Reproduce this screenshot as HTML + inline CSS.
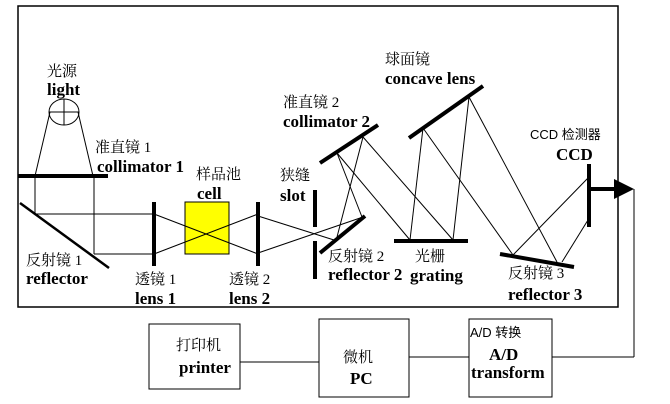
<!DOCTYPE html>
<html><head><meta charset="utf-8"><style>
html,body{margin:0;padding:0;background:#fff;}
svg{display:block}
.c{font-family:"Liberation Serif","Noto Serif CJK SC","Noto Sans CJK SC",serif;font-size:15px;fill:#000}
.e{font-family:"Liberation Serif",serif;font-size:17px;font-weight:bold;fill:#000}
.s{font-family:"Liberation Sans","Noto Sans CJK SC",sans-serif;font-size:13px;fill:#000}
</style></head><body>
<svg width="670" height="404" viewBox="0 0 670 404" xmlns="http://www.w3.org/2000/svg">
<rect x="18" y="6" width="600" height="301" fill="none" stroke="#000" stroke-width="1.5"/>
<g stroke="#000" stroke-width="1" fill="none">
<ellipse cx="64" cy="112" rx="15" ry="13"/>
<line x1="64" y1="99" x2="64" y2="125"/><line x1="49" y1="112" x2="79" y2="112"/>
<line x1="50" y1="112" x2="35" y2="176"/><line x1="78" y1="112" x2="93" y2="176"/>
<line x1="35" y1="176" x2="35" y2="214"/><line x1="94" y1="176" x2="94" y2="254"/>
<line x1="35" y1="214" x2="154" y2="214"/><line x1="94" y1="254" x2="154" y2="254"/>
<line x1="258" y1="216" x2="334" y2="240"/><line x1="258" y1="253" x2="363" y2="217"/>
<line x1="337" y1="153" x2="362" y2="217"/>
<line x1="363" y1="137" x2="337" y2="237"/>
<line x1="337" y1="153" x2="410" y2="240"/>
<line x1="363" y1="137" x2="453" y2="240"/>
<line x1="410" y1="240" x2="423" y2="128"/>
<line x1="453" y1="240" x2="469" y2="97"/>
<line x1="423" y1="128" x2="513" y2="255"/>
<line x1="469" y1="97" x2="557" y2="262"/>
<line x1="513" y1="255" x2="588" y2="178"/>
<line x1="562" y1="262" x2="588" y2="220"/>
<line x1="634" y1="189" x2="634" y2="357"/>
<line x1="552" y1="357" x2="634" y2="357"/>
<line x1="409" y1="357" x2="469" y2="357"/>
<line x1="240" y1="362" x2="319" y2="362"/>
<rect x="149" y="324" width="91" height="65"/>
<rect x="319" y="319" width="90" height="78"/>
<rect x="469" y="319" width="83" height="78"/>
</g>
<rect x="185" y="202" width="44" height="52" fill="#ffff00" stroke="#000" stroke-width="1"/>
<line x1="154" y1="214" x2="258" y2="254" stroke="#000"/><line x1="154" y1="254" x2="258" y2="214" stroke="#000"/>
<g stroke="#000" stroke-width="4" fill="none">
<line x1="18" y1="176" x2="108" y2="176"/>
<line x1="20" y1="203" x2="109" y2="268" stroke-width="2.5"/>
<line x1="154" y1="202" x2="154" y2="266"/>
<line x1="258" y1="202" x2="258" y2="266"/>
<line x1="315" y1="190" x2="315" y2="227"/>
<line x1="315" y1="241" x2="315" y2="279"/>
<line x1="320" y1="253" x2="365" y2="216"/>
<line x1="320" y1="163" x2="378" y2="125"/>
<line x1="409" y1="138" x2="483" y2="86"/>
<line x1="394" y1="241" x2="468" y2="241"/>
<line x1="500" y1="254" x2="574" y2="267"/>
<line x1="589" y1="164" x2="589" y2="227"/>
<line x1="589" y1="189" x2="616" y2="189"/>
</g>
<polygon points="614,179 634,189 614,199" fill="#000"/>
<text class="c" x="47" y="76">光源</text><text class="e" x="47" y="95">light</text>
<text class="c" x="95" y="152">准直镜 1</text><text class="e" x="97" y="172">collimator 1</text>
<text class="c" x="196" y="179">样品池</text><text class="e" x="197" y="199">cell</text>
<text class="c" x="280" y="180">狭缝</text><text class="e" x="280" y="201">slot</text>
<text class="c" x="283" y="107">准直镜 2</text><text class="e" x="283" y="127">collimator 2</text>
<text class="c" x="385" y="64">球面镜</text><text class="e" x="385" y="84">concave lens</text>
<text class="s" x="530" y="139">CCD 检测器</text><text class="e" x="556" y="160">CCD</text>
<text class="c" x="26" y="265">反射镜 1</text><text class="e" x="26" y="284">reflector</text>
<text class="c" x="135" y="284">透镜 1</text><text class="e" x="135" y="304">lens 1</text>
<text class="c" x="229" y="284">透镜 2</text><text class="e" x="229" y="304">lens 2</text>
<text class="c" x="328" y="261">反射镜 2</text><text class="e" x="328" y="280">reflector 2</text>
<text class="c" x="415" y="261">光栅</text><text class="e" x="410" y="281">grating</text>
<text class="c" x="508" y="278">反射镜 3</text><text class="e" x="508" y="300">reflector 3</text>
<text class="c" x="176" y="350">打印机</text><text class="e" x="179" y="373">printer</text>
<text class="c" x="343" y="362">微机</text><text class="e" x="350" y="384">PC</text>
<text class="s" x="470" y="337">A/D 转换</text><text class="e" x="489" y="360">A/D</text><text class="e" x="471" y="378">transform</text>
</svg>
</body></html>
